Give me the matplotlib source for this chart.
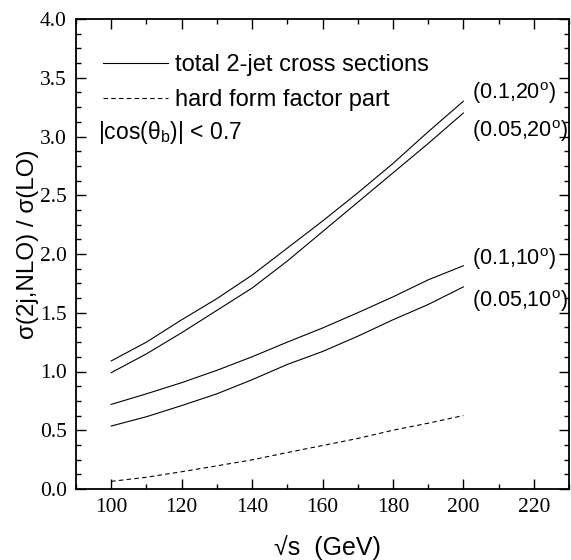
import matplotlib
matplotlib.use("Agg")
import matplotlib.pyplot as plt
from matplotlib.ticker import MultipleLocator

# centre-of-mass energy grid (GeV)
sqrt_s = [100, 110, 120, 130, 140, 150, 160, 170, 180, 190, 200]

# sigma(2j, NLO) / sigma(LO) for (epsilon, delta) cone parameters
ratio_01_20 = [1.09, 1.25, 1.44, 1.62, 1.82, 2.05, 2.28, 2.52, 2.77, 3.04, 3.30]
ratio_005_20 = [0.99, 1.15, 1.33, 1.52, 1.71, 1.94, 2.19, 2.44, 2.69, 2.94, 3.20]
ratio_01_10 = [0.72, 0.81, 0.905, 1.01, 1.125, 1.25, 1.37, 1.50, 1.635, 1.78, 1.90]
ratio_005_10 = [0.536, 0.615, 0.71, 0.81, 0.93, 1.06, 1.17, 1.30, 1.44, 1.57, 1.72]

# hard form factor contribution
hard_ff = [0.065, 0.10, 0.147, 0.197, 0.248, 0.31, 0.37, 0.43, 0.50, 0.56, 0.625]

curve_labels = [r"(0.1,20$^\mathregular{o}$)", r"(0.05,20$^\mathregular{o}$)",
                r"(0.1,10$^\mathregular{o}$)", r"(0.05,10$^\mathregular{o}$)"]

sans = "Liberation Sans"
serif = "Liberation Serif"
plt.rcParams["font.family"] = sans
plt.rcParams["mathtext.fontset"] = "custom"
plt.rcParams["mathtext.rm"] = sans
plt.rcParams["mathtext.it"] = sans + ":italic"

fig = plt.figure(figsize=(5.71, 5.6), dpi=100)
ax = fig.add_axes([76 / 571, 1 - 489 / 560, 493 / 571, 470 / 560])

lw = 0.8
solid = [ratio_01_20, ratio_005_20, ratio_01_10, ratio_005_10]
handles = []
for ys in solid:
    ln, = ax.plot(sqrt_s, ys, color="black", lw=lw)
    handles.append(ln)
dash, = ax.plot(sqrt_s, hard_ff, color="black", lw=lw, dashes=(4, 3))

ax.set_xlim(90, 230)
ax.set_ylim(0.0, 4.0)
ax.xaxis.set_major_locator(MultipleLocator(20))
ax.xaxis.set_minor_locator(MultipleLocator(10))
ax.yaxis.set_major_locator(MultipleLocator(0.5))
ax.yaxis.set_minor_locator(MultipleLocator(0.125))
ax.tick_params(which="both", direction="in", top=True, right=True, width=1.0)
ax.tick_params(which="major", length=7, pad=6.5, labelsize=15.5)
ax.tick_params(which="minor", length=3.5)
ax.xaxis.set_major_formatter(plt.FuncFormatter(lambda v, p: f"{v:.0f}"))
ax.yaxis.set_major_formatter(plt.FuncFormatter(lambda v, p: f"{v:.1f}"))
for lab in ax.get_xticklabels() + ax.get_yticklabels():
    lab.set_fontfamily(serif)
for sp in ax.spines.values():
    sp.set_linewidth(1.3)

ax.set_xlabel("√s  (GeV)", fontsize=18, va="center")
ax.xaxis.set_label_coords(0.51, -0.125)
ax.set_ylabel("σ(2j,NLO) / σ(LO)", fontsize=17.5, va="center")
ax.yaxis.set_label_coords(-0.097, 0.521)

leg = ax.legend([handles[0], dash],
                ["total 2-jet cross sections", "hard form factor part"],
                loc="upper left", bbox_to_anchor=(0.035, 0.945), frameon=False,
                fontsize=17, handlelength=2.75, handletextpad=0.3,
                labelspacing=0.55, borderaxespad=0)

ax.text(96.3, 2.975, r"|cos(θ$_\mathregular{b}$)| < 0.7", fontsize=16.5,
        va="baseline", ha="left")

label_y = [3.315, 3.0, 1.906, 1.55]
for txt, yb in zip(curve_labels, label_y):
    ax.text(202.5, yb, txt, fontsize=15.5, va="baseline", ha="left")

fig.savefig("out.png", dpi=100)
